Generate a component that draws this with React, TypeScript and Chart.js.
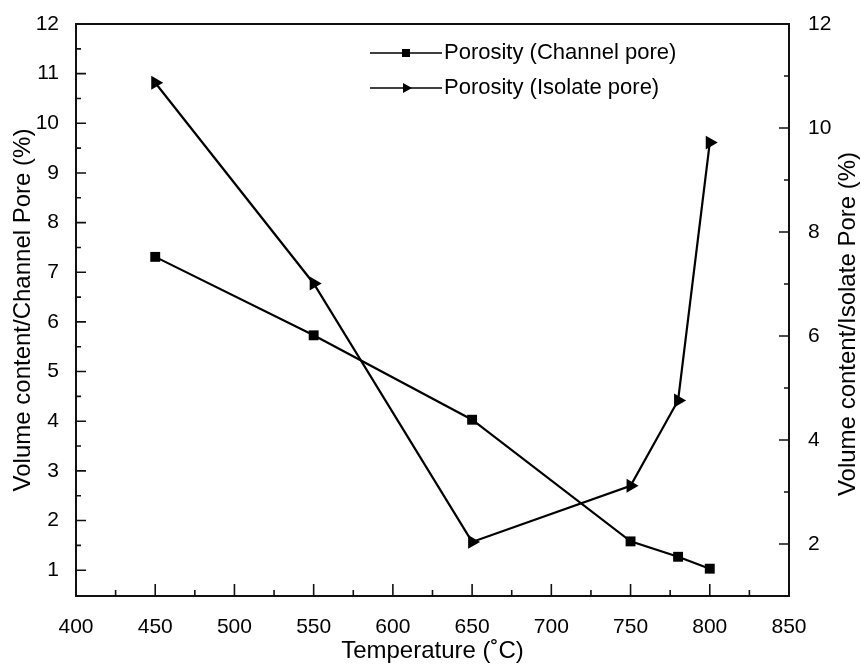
import { useEffect, useRef } from 'react';
import { Chart, registerables } from 'chart.js';

Chart.register(...registerables);

const FONT = "'Liberation Sans', Arial, Helvetica, sans-serif";

// ---- data ----
const temperatures = [450, 550, 650, 750, 780, 800];
const channelPore = [7.31, 5.73, 4.03, 1.58, 1.27, 1.03];
const isolatePore = [10.87, 7.01, 2.04, 3.12, 4.76, 9.72];

const xTicks = [400, 450, 500, 550, 600, 650, 700, 750, 800, 850];
const leftTicks = [1, 2, 3, 4, 5, 6, 7, 8, 9, 10, 11, 12];
const rightTicks = [2, 4, 6, 8, 10, 12];

const seriesLabels = ['Porosity (Channel pore)', 'Porosity (Isolate pore)'];
const xTitle = 'Temperature (˚C)';
const leftTitle = 'Volume content/Channel Pore (%)';
const rightTitle = 'Volume content/Isolate Pore (%)';

function midpoints(vals: number[]) {
  const out: number[] = [];
  for (let i = 0; i < vals.length - 1; i++) out.push((vals[i] + vals[i + 1]) / 2);
  return out;
}

const framePlugin = {
  id: 'frameTicks',
  beforeDatasetsDraw(chart: any) {
    const { ctx, chartArea: a, scales } = chart;
    ctx.save();
    ctx.strokeStyle = '#111';
    ctx.lineWidth = 2;
    ctx.strokeRect(a.left, a.top, a.right - a.left, a.bottom - a.top);

    ctx.lineWidth = 1.6;
    ctx.beginPath();
    const xs = scales.x;
    xTicks.forEach((v) => {
      const px = xs.getPixelForValue(v);
      ctx.moveTo(px, a.bottom);
      ctx.lineTo(px, a.bottom - 12);
    });
    midpoints(xTicks).forEach((v) => {
      const px = xs.getPixelForValue(v);
      ctx.moveTo(px, a.bottom);
      ctx.lineTo(px, a.bottom - 6);
    });
    const ys = scales.y;
    leftTicks.forEach((v) => {
      const py = ys.getPixelForValue(v);
      ctx.moveTo(a.left, py);
      ctx.lineTo(a.left + 10, py);
    });
    midpoints(leftTicks).forEach((v) => {
      const py = ys.getPixelForValue(v);
      ctx.moveTo(a.left, py);
      ctx.lineTo(a.left + 5, py);
    });
    const y1 = scales.y1;
    rightTicks.forEach((v) => {
      const py = y1.getPixelForValue(v);
      ctx.moveTo(a.right, py);
      ctx.lineTo(a.right - 10, py);
    });
    midpoints(rightTicks).forEach((v) => {
      const py = y1.getPixelForValue(v);
      ctx.moveTo(a.right, py);
      ctx.lineTo(a.right - 5, py);
    });
    ctx.stroke();
    ctx.restore();
  },
  afterDraw(chart: any) {
    const { ctx, chartArea: a } = chart;
    ctx.save();
    // right axis title (reads bottom to top)
    ctx.fillStyle = '#000';
    ctx.font = `24px ${FONT}`;
    ctx.textAlign = 'center';
    ctx.textBaseline = 'middle';
    ctx.translate(848, (a.top + a.bottom) / 2 + 14);
    ctx.rotate(-Math.PI / 2);
    ctx.fillText(rightTitle, 0, 0);
    ctx.restore();

    // legend
    ctx.save();
    const rows = [53, 88];
    const x0 = 370;
    const x1 = 442;
    const xm = (x0 + x1) / 2;
    chart.data.datasets.forEach((ds: any, i: number) => {
      const y = rows[i];
      ctx.strokeStyle = '#000';
      ctx.lineWidth = 1.6;
      ctx.beginPath();
      ctx.moveTo(x0, y);
      ctx.lineTo(x1, y);
      ctx.stroke();
      ctx.fillStyle = '#000';
      if (ds.pointStyle === 'rect') {
        ctx.fillRect(xm - 4, y - 4, 8, 8);
      } else {
        ctx.beginPath();
        ctx.moveTo(xm + 6, y);
        ctx.lineTo(xm - 3, y - 5);
        ctx.lineTo(xm - 3, y + 5);
        ctx.closePath();
        ctx.fill();
      }
      ctx.font = `22px ${FONT}`;
      ctx.textAlign = 'left';
      ctx.textBaseline = 'middle';
      ctx.fillText(ds.label, x1 + 2, y);
    });
    ctx.restore();
  },
};

export default function App() {
  const ref = useRef<HTMLCanvasElement>(null);

  useEffect(() => {
    const tickFont = { family: FONT, size: 21 };
    const titleFont = { family: FONT, size: 24 };
    const chart = new Chart(ref.current as HTMLCanvasElement, {
      type: 'line',
      data: {
        datasets: [
          {
            label: seriesLabels[0],
            data: temperatures.map((t, i) => ({ x: t, y: channelPore[i] })),
            yAxisID: 'y',
            borderColor: '#000',
            backgroundColor: '#000',
            borderWidth: 2.2,
            pointStyle: 'rect',
            pointRadius: 7,
            pointBorderWidth: 0,
            pointBackgroundColor: '#000',
            tension: 0,
          },
          {
            label: seriesLabels[1],
            data: temperatures.map((t, i) => ({ x: t, y: isolatePore[i] })),
            yAxisID: 'y1',
            borderColor: '#000',
            backgroundColor: '#000',
            borderWidth: 2.2,
            pointStyle: 'triangle',
            pointRotation: 90,
            pointRadius: 8,
            pointBorderWidth: 0,
            pointBackgroundColor: '#000',
            tension: 0,
          },
        ],
      },
      options: {
        responsive: false,
        animation: false,
        events: [],
        layout: { padding: { top: 24, left: 0, right: 0, bottom: 0 } },
        plugins: {
          legend: { display: false },
          tooltip: { enabled: false },
        },
        scales: {
          x: {
            type: 'linear',
            position: 'bottom',
            min: 400,
            max: 850,
            afterBuildTicks: (s: any) => {
              s.ticks = xTicks.map((v) => ({ value: v }));
            },
            afterFit: (s: any) => {
              s.height = 69;
            },
            grid: { display: false },
            border: { display: false },
            ticks: { font: tickFont, color: '#000', padding: 11, maxRotation: 0, autoSkip: false },
            title: {
              display: true,
              text: xTitle,
              font: titleFont,
              color: '#000',
              padding: { top: 0, bottom: -1 },
            },
          },
          y: {
            type: 'linear',
            position: 'left',
            min: 0.48,
            max: 12,
            afterBuildTicks: (s: any) => {
              s.ticks = leftTicks.map((v) => ({ value: v }));
            },
            afterFit: (s: any) => {
              s.width = 76;
            },
            grid: { display: false },
            border: { display: false },
            ticks: { font: tickFont, color: '#000', padding: 9, autoSkip: false },
            title: {
              display: true,
              text: leftTitle,
              font: titleFont,
              color: '#000',
              padding: { top: 9, bottom: 0 },
            },
          },
          y1: {
            type: 'linear',
            position: 'right',
            min: 1,
            max: 12,
            afterBuildTicks: (s: any) => {
              s.ticks = rightTicks.map((v) => ({ value: v }));
            },
            afterFit: (s: any) => {
              s.width = 72;
            },
            grid: { display: false },
            border: { display: false },
            ticks: { font: tickFont, color: '#000', padding: 11, autoSkip: false },
            title: { display: false },
          },
        },
      },
      plugins: [framePlugin],
    } as any);
    return () => chart.destroy();
  }, []);

  return (
    <div style={{ position: 'absolute', left: 0, top: 0, width: 861, height: 665, background: '#fff' }}>
      <canvas ref={ref} width={861} height={665} style={{ display: 'block' }} />
    </div>
  );
}
